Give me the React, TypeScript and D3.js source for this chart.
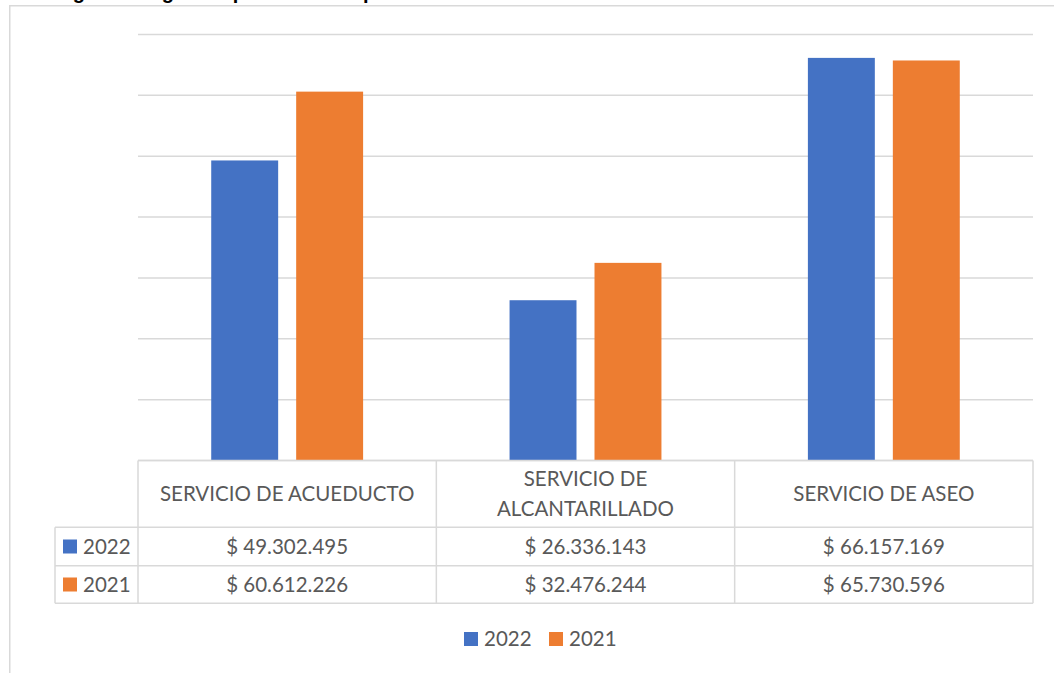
import React from "react";
import * as d3 from "d3";

const categories = ["SERVICIO DE ACUEDUCTO", "SERVICIO DE ALCANTARILLADO", "SERVICIO DE ASEO"];
const categoryLines = [["SERVICIO DE ACUEDUCTO"], ["SERVICIO DE", "ALCANTARILLADO"], ["SERVICIO DE ASEO"]];
const seriesNames = ["2022", "2021"];
const values2022 = [49302495, 26336143, 66157169];
const values2021 = [60612226, 32476244, 65730596];
const yTicks = [0, 10000000, 20000000, 30000000, 40000000, 50000000, 60000000, 70000000];
const titleText = "Figura 6. Ingresos por servicios públicos";

const W = 1054;
const H = 673;
const colors = ["#4472C4", "#ED7D31"];
const grid = "#D9D9D9";
const textColor = "#595959";
const font = "Lato, 'Open Sans', sans-serif";

const locale = d3.formatLocale({ decimal: ",", thousands: ".", grouping: [3], currency: ["$ ", ""] });
const fmt = locale.format("$,.0f");

export default function App() {
  const plotLeft = 138;
  const plotRight = 1033;
  const plotTop = 34.5;
  const plotBottom = 460.5;
  const x = d3.scaleBand<string>().domain(categories).range([plotLeft, plotRight]).paddingInner(0).paddingOuter(0);
  const inner = d3.scaleBand<string>().domain(seriesNames).range([0, x.bandwidth()]).paddingInner(0.212).paddingOuter(0.862);
  const y = d3.scaleLinear().domain([0, 70000000]).range([plotBottom, plotTop]);
  const series = [values2022, values2021];

  const rowTop = [plotBottom, 527.3, 565.7, 603.3];
  const legendLeft = 55;
  const fs = 20.5;

  return (
    <svg width={W} height={H} style={{ position: "absolute", left: 0, top: 0, display: "block", background: "#fff" }} fontFamily={font}>
      <rect x={0} y={0} width={W} height={H} fill="#fff" />
      <text x={55} y={-1.5} fontFamily="'Liberation Sans', Arial, sans-serif" fontWeight="bold" fontSize={20} fill="#000">{titleText}</text>
      <rect x={9.75} y={5.75} width={1200} height={800} fill="none" stroke={grid} strokeWidth={1.5} />
      {yTicks.map((t) => (
        <line key={t} x1={plotLeft} x2={plotRight} y1={y(t)} y2={y(t)} stroke={grid} strokeWidth={1.5} />
      ))}
      {series.map((vals, si) =>
        categories.map((c, ci) => (
          <rect key={si + "-" + ci} x={(x(c) as number) + (inner(seriesNames[si]) as number)} y={y(vals[ci])}
            width={inner.bandwidth()} height={y(0) - y(vals[ci])} fill={colors[si]} />
        ))
      )}
      <g stroke={grid} strokeWidth={1.5}>
        <line x1={plotLeft} x2={plotRight} y1={rowTop[0]} y2={rowTop[0]} />
        {rowTop.slice(1).map((r, i) => (
          <line key={i} x1={legendLeft} x2={plotRight} y1={r} y2={r} />
        ))}
        <line x1={legendLeft} x2={legendLeft} y1={rowTop[1]} y2={rowTop[3]} />
        {categories.map((c) => (
          <line key={c} x1={x(c)} x2={x(c)} y1={rowTop[0]} y2={rowTop[3]} />
        ))}
        <line x1={plotRight} x2={plotRight} y1={rowTop[0]} y2={rowTop[3]} />
      </g>
      {categoryLines.map((lines, ci) => {
        const cx = (x(categories[ci]) as number) + x.bandwidth() / 2;
        const cy = (rowTop[0] + rowTop[1]) / 2;
        const lh = 30;
        return (
          <text key={ci} x={cx} textAnchor="middle" fontSize={fs} fill={textColor}>
            {lines.map((l, li) => (
              <tspan key={li} x={cx} y={cy + (li - (lines.length - 1) / 2) * lh} dy="0.36em">{l}</tspan>
            ))}
          </text>
        );
      })}
      {series.map((vals, si) => {
        const cy = (rowTop[si + 1] + rowTop[si + 2]) / 2;
        return (
          <g key={si}>
            <rect x={63} y={cy - 7} width={14} height={14} fill={colors[si]} />
            <text x={83} y={cy} dy="0.36em" fontSize={fs} fill={textColor}>{seriesNames[si]}</text>
            {vals.map((v, ci) => (
              <text key={ci} x={(x(categories[ci]) as number) + x.bandwidth() / 2} y={cy} dy="0.36em" textAnchor="middle" fontSize={fs} fill={textColor}>{fmt(v)}</text>
            ))}
          </g>
        );
      })}
      {seriesNames.map((s, si) => (
        <g key={s} transform={`translate(${464 + si * 85},0)`}>
          <rect x={0} y={632} width={14} height={14} fill={colors[si]} />
          <text x={20} y={646} fontSize={fs} fill={textColor}>{s}</text>
        </g>
      ))}
    </svg>
  );
}
